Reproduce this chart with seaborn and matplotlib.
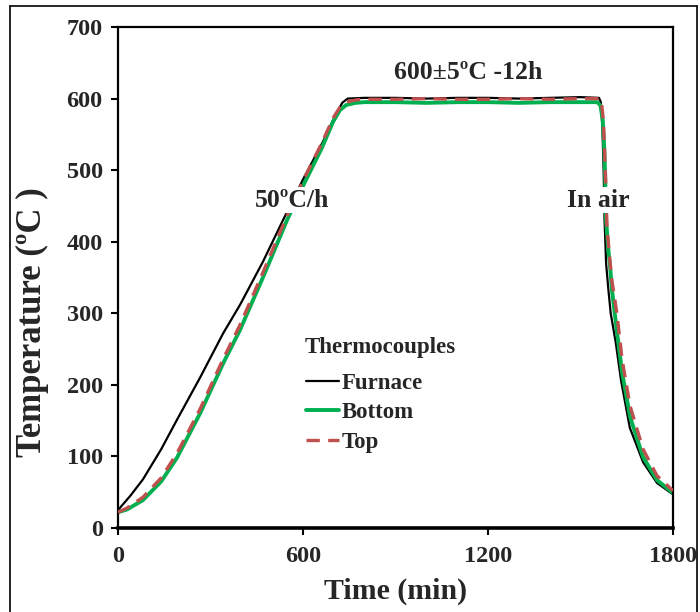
import numpy as np
import pandas as pd
import matplotlib
matplotlib.use("Agg")
import matplotlib.pyplot as plt
from matplotlib.lines import Line2D
import seaborn as sns

# ---- data ----
furnace_time = [0, 40, 81, 140, 191, 266, 341, 396, 470, 535, 600, 665, 700, 727, 745,
                800, 900, 1000, 1100, 1200, 1300, 1400, 1500, 1560,
                1566, 1571, 1575, 1578, 1583, 1590, 1598, 1614, 1632, 1660, 1703, 1748, 1800]
furnace_temp = [25, 45, 68, 110, 151, 210, 272, 312, 372, 430, 487, 540, 572, 594, 600,
                601, 601, 600, 601, 601, 600, 601, 602, 601,
                595, 560, 500, 430, 370, 335, 300, 260, 205, 140, 92, 63, 47]

bottom_time = [0, 30, 81, 140, 191, 266, 341, 396, 470, 548, 600, 660, 698, 720, 740, 770,
               800, 900, 1000, 1100, 1200, 1300, 1400, 1500, 1555,
               1565, 1572, 1577, 1580, 1583, 1590, 1596, 1602, 1618, 1635, 1661, 1703, 1748, 1800]
bottom_temp = [22, 26, 39, 65, 98, 160, 230, 277, 350, 430, 478, 530, 568, 584, 591, 594,
               595, 595, 594, 595, 595, 594, 595, 595, 595,
               590, 570, 530, 490, 430, 390, 365, 333, 275, 217, 155, 99, 67, 49]

top_time = [0, 30, 81, 140, 191, 266, 341, 396, 470, 548, 600, 660, 698, 720, 740, 770,
            800, 900, 1000, 1100, 1200, 1300, 1400, 1500, 1562,
            1568, 1574, 1578, 1582, 1586, 1594, 1602, 1618, 1635, 1661, 1703, 1748, 1800]
top_temp = [22, 28, 43, 70, 104, 166, 236, 284, 357, 436, 485, 537, 573, 588, 595, 598,
            599, 599, 600, 599, 599, 600, 599, 600, 600,
            595, 570, 530, 480, 420, 380, 345, 300, 235, 170, 110, 73, 52]

x_ticks = [0, 600, 1200, 1800]
y_ticks = [0, 100, 200, 300, 400, 500, 600, 700]

# ---- style ----
sns.set_style("ticks")
plt.rcParams["font.family"] = ["Liberation Serif", "DejaVu Serif"]
plt.rcParams["font.weight"] = "bold"

fig = plt.figure(figsize=(7.0, 6.12), dpi=100)
ax = fig.add_axes([118 / 700, 1 - 528 / 612, 555 / 700, 501 / 612])

df_f = pd.DataFrame({"t": furnace_time, "T": furnace_temp})
df_b = pd.DataFrame({"t": bottom_time, "T": bottom_temp})
df_t = pd.DataFrame({"t": top_time, "T": top_temp})

sns.lineplot(data=df_b, x="t", y="T", ax=ax, color="#00B050", lw=2.8,
             sort=False, zorder=2)
sns.lineplot(data=df_f, x="t", y="T", ax=ax, color="black", lw=1.6,
             sort=False, zorder=1)
sns.lineplot(data=df_t, x="t", y="T", ax=ax, color="#C0504D", lw=2.4,
             sort=False, zorder=3)
ax.lines[-1].set_dashes([4, 2.5])

ax.set_xlim(0, 1800)
ax.set_ylim(0, 700)
ax.set_xticks(x_ticks)
ax.set_yticks(y_ticks)
ax.set_xticklabels([str(v) for v in x_ticks], fontsize=17.5, fontweight="bold")
ax.set_yticklabels([str(v) for v in y_ticks], fontsize=17.5, fontweight="bold")
ax.tick_params(axis="both", direction="out", length=5, width=1.5, color="black")
ax.tick_params(axis="y", pad=6)
ax.tick_params(axis="x", pad=8)

for side in ["left", "top", "right"]:
    ax.spines[side].set_linewidth(1.6)
    ax.spines[side].set_color("black")
ax.spines["bottom"].set_linewidth(2.6)
ax.spines["bottom"].set_color("black")

ax.set_xlabel("Time (min)", fontsize=21.5, fontweight="bold")
ax.set_ylabel("Temperature (ºC )", fontsize=25, fontweight="bold")
ax.xaxis.set_label_coords(0.5, -0.1)
ax.yaxis.set_label_coords(-0.124, 0.41)

# annotations
ax.text(1135, 636, "600±5ºC -12h", ha="center", va="center", fontsize=18.5, fontweight="bold")
ax.text(564, 458, "50ºC/h", ha="center", va="center", fontsize=18.5, fontweight="bold",
        bbox=dict(facecolor="white", edgecolor="none", pad=1), zorder=5)
ax.text(1557, 458, "In air", ha="center", va="center", fontsize=18.5, fontweight="bold",
        bbox=dict(facecolor="white", edgecolor="none", pad=1), zorder=5)

# legend
ax.text(0.3365, 0.361, "Thermocouples", transform=ax.transAxes, ha="left", va="center",
        fontsize=16.5, fontweight="bold")
handles = [Line2D([], [], color="black", lw=1.6),
           Line2D([], [], color="#00B050", lw=2.8),
           Line2D([], [], color="#C0504D", lw=2.4, dashes=[4, 2.5])]
leg = ax.legend(handles, ["Furnace", "Bottom", "Top"],
                loc="upper left", bbox_to_anchor=(0.339, 0.31), frameon=False,
                prop={"size": 16.5, "weight": "bold"}, handlelength=1.45,
                handletextpad=0.1, labelspacing=0.38, borderaxespad=0, borderpad=0)

# outer frame
fx0, fx1, fy1 = 10 / 700, 697 / 700, 1 - 6 / 612
for xs, ys in [([fx0, fx0], [0, fy1]), ([fx1, fx1], [0, fy1]), ([fx0, fx1], [fy1, fy1])]:
    fig.add_artist(Line2D(xs, ys, transform=fig.transFigure, color="black", lw=1.2))

fig.savefig("out.png", dpi=100)
